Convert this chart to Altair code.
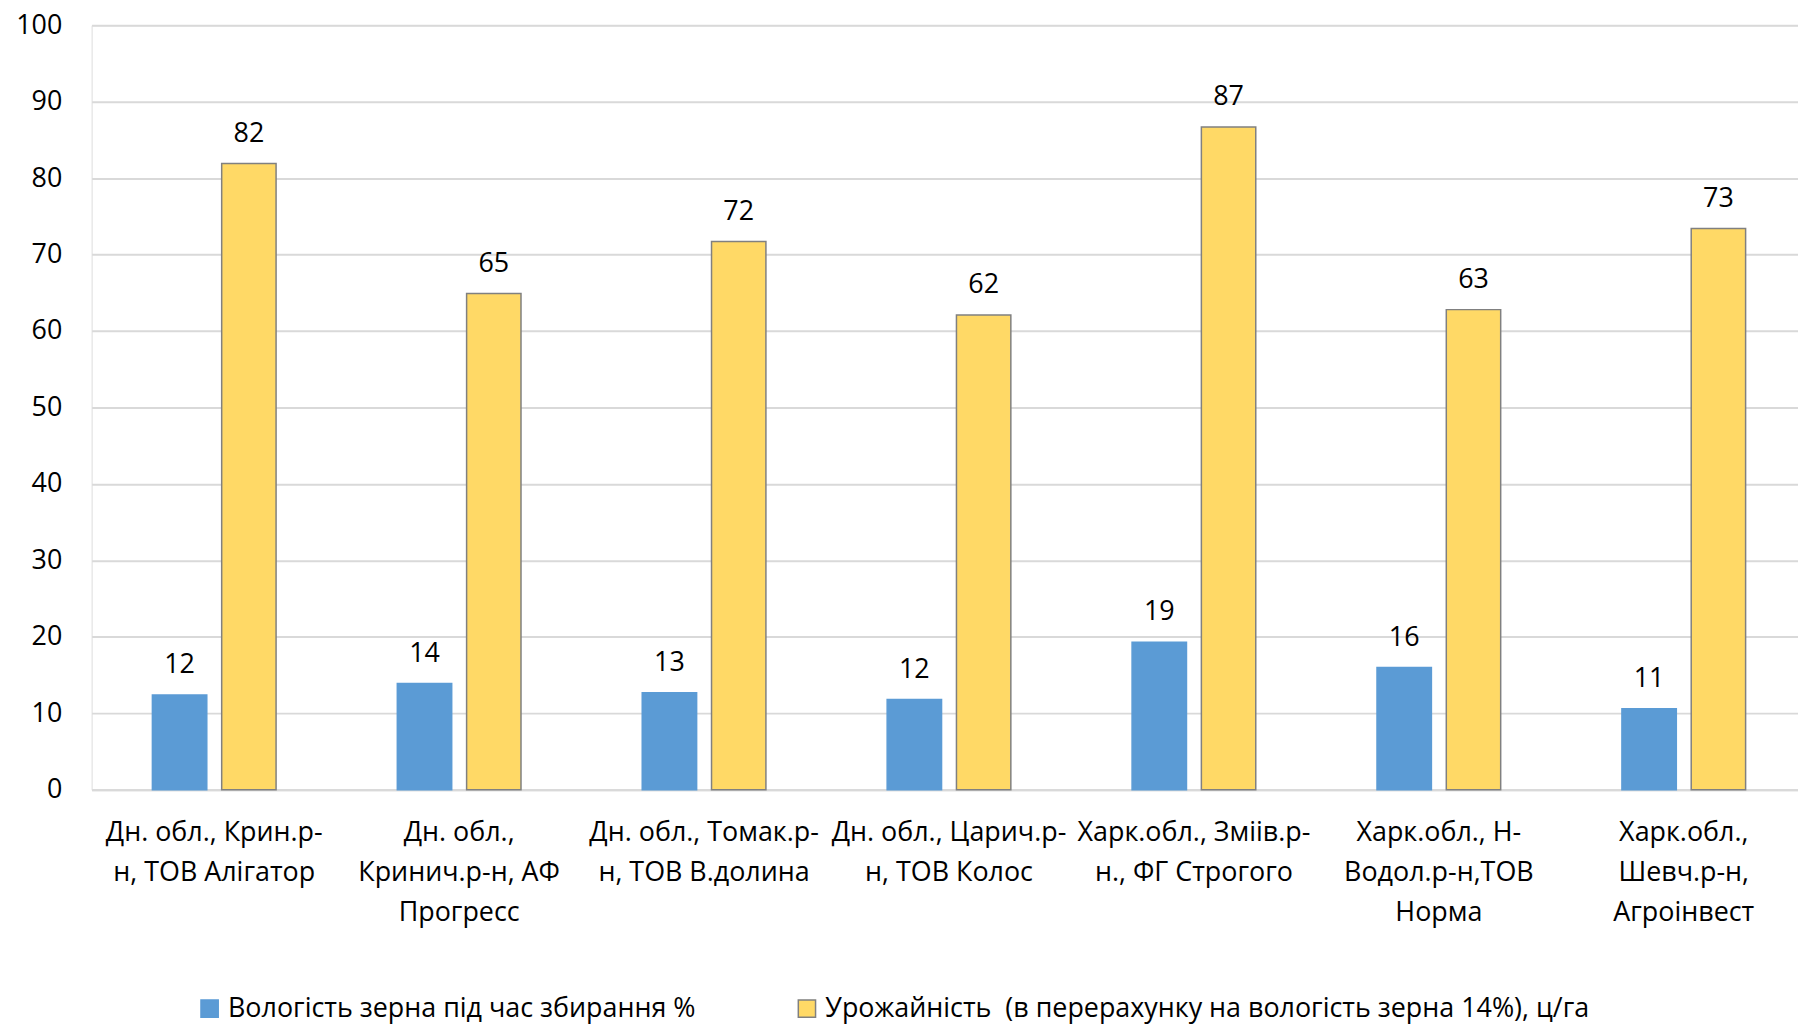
import altair as alt
import pandas as pd

category_lines = [
    ["Дн. обл., Крин.р-", "н, ТОВ Алігатор"],
    ["Дн. обл.,", "Кринич.р-н, АФ", "Прогресс"],
    ["Дн. обл., Томак.р-", "н, ТОВ В.долина"],
    ["Дн. обл., Царич.р-", "н, ТОВ Колос"],
    ["Харк.обл., Зміів.р-", "н., ФГ Строгого"],
    ["Харк.обл., Н-", "Водол.р-н,ТОВ", "Норма"],
    ["Харк.обл.,", "Шевч.р-н,", "Агроінвест"],
]
categories = ["|".join(c) for c in category_lines]

series_names = [
    "Вологість зерна під час збирання %",
    "Урожайність \u00a0(в перерахунку на вологість зерна 14%), ц/га",
]
moisture = [12.4, 13.9, 12.7, 11.8, 19.3, 16.0, 10.6]
yield_vals = [81.9, 64.9, 71.7, 62.1, 86.7, 62.8, 73.4]

rows = []
for i, c in enumerate(categories):
    rows.append({"category": c, "series": series_names[0], "value": moisture[i]})
    rows.append({"category": c, "series": series_names[1], "value": yield_vals[i]})
df = pd.DataFrame(rows)

FONT = "Open Sans"
FS = 27

x_enc = alt.X(
    "category:N",
    sort=categories,
    scale=alt.Scale(paddingInner=0.495, paddingOuter=0.231, align=0.537),
    axis=alt.Axis(
        title=None,
        labelExpr="split(datum.label, '|')",
        labelAngle=0,
        labelFont=FONT,
        labelFontSize=FS,
        labelColor="#000000",
        labelLineHeight=40,
        labelPadding=30,
        labelLimit=0,
        labelOverlap=False,
        labelBound=False,
        ticks=False,
        domain=True,
        domainColor="#d9d9d9",
        domainWidth=2,
    ),
)
xoff = alt.XOffset(
    "series:N",
    sort=series_names,
    scale=alt.Scale(paddingInner=0.215, paddingOuter=0),
)
y_enc = alt.Y(
    "value:Q",
    scale=alt.Scale(domain=[0, 100], nice=False),
    axis=alt.Axis(
        title=None,
        values=list(range(0, 101, 10)),
        labelFont=FONT,
        labelFontSize=FS,
        labelColor="#000000",
        labelPadding=30,
        ticks=False,
        domain=False,
        grid=True,
        gridColor="#d9d9d9",
        gridWidth=2,
    ),
)

color_scale = alt.Scale(domain=series_names, range=["#5B9BD5", "#FFD966"])
stroke_scale = alt.Scale(domain=series_names, range=["#5B9BD5", "#808080"])

legend = alt.Legend(
    title=None,
    orient="none",
    legendX=105,
    legendY=974,
    direction="horizontal",
    labelFont=FONT,
    labelFontSize=FS,
    labelColor="#000000",
    labelLimit=0,
    symbolType="square",
    symbolSize=300,
    symbolStrokeWidth=1.5,
    labelOffset=5,
    columnPadding=98,
    padding=0,
)

bars = alt.Chart(df).mark_bar(strokeWidth=1.5).encode(
    x=x_enc,
    xOffset=xoff,
    y=y_enc,
    color=alt.Color("series:N", scale=color_scale, legend=legend, sort=series_names),
    stroke=alt.Stroke("series:N", scale=stroke_scale, legend=legend, sort=series_names),
)

labels = alt.Chart(df).mark_text(
    font=FONT, fontSize=FS, color="#000000", baseline="alphabetic", dy=-22
).encode(
    x=alt.X("category:N", sort=categories),
    xOffset=alt.XOffset("series:N", sort=series_names),
    y="value:Q",
    text=alt.Text("value:Q", format=".0f"),
)

chart = (
    alt.layer(bars, labels)
    .properties(
        width=1714,
        height=768,
        autosize=alt.AutoSizeParams(type="none"),
        padding={"left": 84, "top": 15, "right": 0, "bottom": 235},
    )
    .configure_view(stroke=None)
    .configure(background="white")
)

chart.save("out.html", embed_options={"renderer": "svg", "actions": False})
